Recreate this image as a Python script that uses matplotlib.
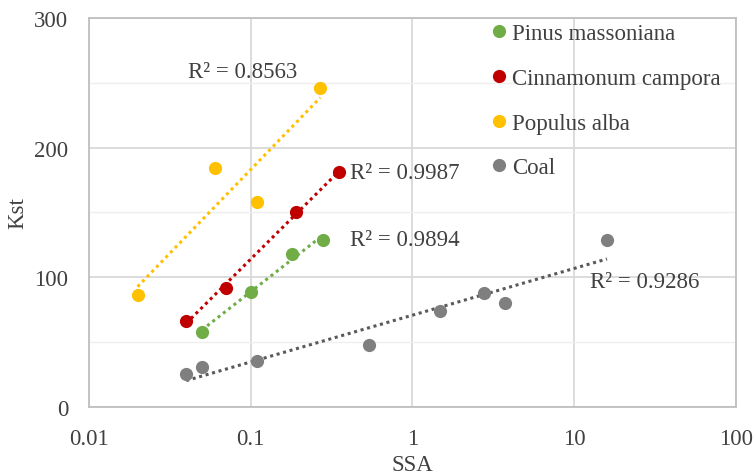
import numpy as np
import matplotlib
matplotlib.use('Agg')
import matplotlib.pyplot as plt
from matplotlib.ticker import FixedLocator, FuncFormatter

plt.rcParams['font.family'] = ['Liberation Serif', 'DejaVu Serif']

# data
pinus_x = [0.05, 0.1, 0.18, 0.28]
pinus_y = [58, 89, 118, 129]
cinna_x = [0.04, 0.07, 0.19, 0.35]
cinna_y = [66, 92, 150, 181]
populus_x = [0.02, 0.06, 0.11, 0.27]
populus_y = [86, 184, 158, 246]
coal_x = [0.04, 0.05, 0.11, 0.54, 1.48, 2.76, 3.74, 16.0]
coal_y = [25, 31, 35, 48, 74, 88, 80, 129]

names = ['Pinus massoniana', 'Cinnamonum campora', 'Populus alba', 'Coal']
r2_text = ['R² = 0.9894', 'R² = 0.9987', 'R² = 0.8563', 'R² = 0.9286']
r2_pos = [(0.41, 129), (0.41, 181), (0.041, 259), (12.5, 97)]

series = [(pinus_x, pinus_y, '#70AD47', '#70AD47'),
          (cinna_x, cinna_y, '#C00000', '#C00000'),
          (populus_x, populus_y, '#FFC000', '#FFC000'),
          (coal_x, coal_y, '#7F7F7F', '#595959')]

FS = 16.5
fig = plt.figure(figsize=(7.53, 4.77), dpi=100)
ax = fig.add_axes([0.118, 0.145, 0.859, 0.815])

for (xs, ys, col, tcol), name in zip(series, names):
    xs = np.array(xs)
    ys = np.array(ys)
    # log trendline like excel: y = a ln(x) + b
    a, b = np.polyfit(np.log(xs), ys, 1)
    xx = np.array([xs.min(), xs.max()])
    ax.plot(xx, a * np.log(xx) + b, color=tcol, linestyle=(0, (1, 1.2)),
            linewidth=2.2, zorder=2)
    ax.plot(xs, ys, 'o', color=col, markersize=9.5, label=name, zorder=3,
            markeredgewidth=0)

for txt, (tx, ty) in zip(r2_text, r2_pos):
    ax.text(tx, ty, txt, fontsize=FS, color='#404040', va='center', ha='left')

ax.set_xscale('log')
ax.set_xlim(0.01, 100)
ax.set_ylim(0, 300)
ax.xaxis.set_major_locator(FixedLocator([0.01, 0.1, 1, 10, 100]))
ax.xaxis.set_minor_locator(FixedLocator([]))
ax.xaxis.set_major_formatter(FuncFormatter(lambda v, p: '%g' % v))
ax.set_yticks([0, 100, 200, 300])
ax.set_yticks([50, 150, 250], minor=True)
ax.grid(True, which='major', color='#d9d9d9', linewidth=1.3, zorder=0)
ax.grid(True, which='minor', axis='y', color='#efefef', linewidth=1.0, zorder=0)
ax.set_axisbelow(True)
ax.tick_params(which='both', length=0, labelsize=FS, labelcolor='#404040', pad=15)
for s in ax.spines.values():
    s.set_color('#bfbfbf')
    s.set_linewidth(1.3)

ax.set_xlabel('SSA', fontsize=FS, color='#404040', labelpad=4)
ax.set_ylabel('Kst', fontsize=FS, color='#404040', labelpad=4)

ax.legend(loc='upper left', bbox_to_anchor=(0.601, 1.01), frameon=False,
          fontsize=FS, labelspacing=1.03, handletextpad=0.0, handlelength=1.1,
          labelcolor='#404040', borderaxespad=0)

plt.savefig('out.png', dpi=100)
